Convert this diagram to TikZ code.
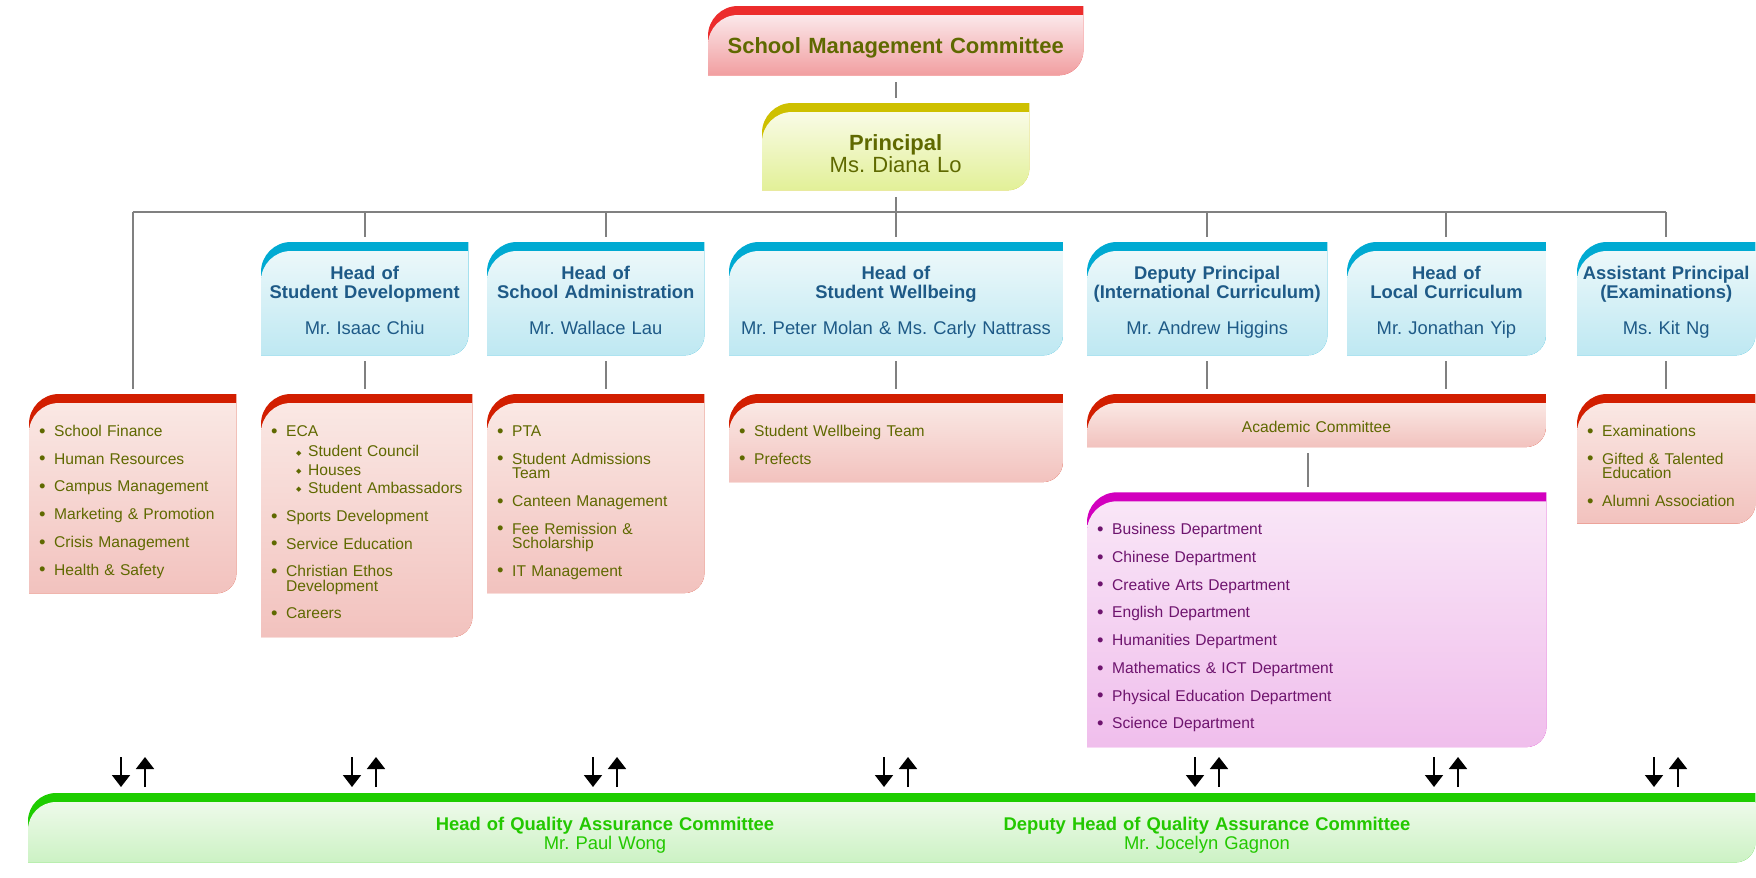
\documentclass[tikz,border=0pt]{standalone}
\usepackage{fontspec}
\setmainfont{Liberation Sans}
\newfontfamily\dejavu{DejaVu Sans}
\usetikzlibrary{arrows.meta,backgrounds}
\frenchspacing

\definecolor{olivetext}{RGB}{95,105,0}
\definecolor{bluetext}{RGB}{30,90,135}
\definecolor{purpletext}{RGB}{110,20,110}
\definecolor{greentext}{RGB}{35,200,0}
\definecolor{linegray}{RGB}{128,128,128}
\definecolor{smcbar}{RGB}{236,44,44}
\definecolor{smctop}{RGB}{251,232,234}
\definecolor{smcbot}{RGB}{241,158,160}
\definecolor{prbar}{RGB}{206,192,0}
\definecolor{prtop}{RGB}{249,251,230}
\definecolor{prbot}{RGB}{226,240,152}
\definecolor{headbar}{RGB}{0,170,210}
\definecolor{headtop}{RGB}{236,248,250}
\definecolor{headbot}{RGB}{190,232,242}
\definecolor{listbar}{RGB}{210,30,0}
\definecolor{listtop}{RGB}{250,232,228}
\definecolor{listbot}{RGB}{242,194,190}
\definecolor{deptbar}{RGB}{210,0,190}
\definecolor{depttop}{RGB}{249,230,247}
\definecolor{deptbot}{RGB}{240,190,236}
\definecolor{qabar}{RGB}{30,205,0}
\definecolor{qatop}{RGB}{238,250,234}
\definecolor{qabot}{RGB}{204,242,196}

\newcommand\listfont{\fontsize{15.6}{14.4}\selectfont\lineskiplimit=-100pt}
\newcommand\headfont{\fontsize{18.4}{19}\selectfont\lineskiplimit=-100pt}
\newcommand\diam{\raisebox{1.5pt}{\dejavu\fontsize{7}{7}\selectfont ◆}}
\newcommand\bul[1]{\mbox{\makebox[15pt][l]{\raisebox{-0.7pt}{\fontsize{18.5}{14}\selectfont\textbullet}}#1}}
\newcommand\subitm[1]{\mbox{\hspace{25pt}\makebox[12pt][l]{\diam}#1}}
\newcommand\contline[1]{\mbox{\hspace{15pt}#1}}
% box with coloured top band: node, band, top colour, bottom colour, radii
\newcommand\orgpanel[6]{%
  \fill[#2] (#1.south west) -- ([yshift=-#5]#1.north west)
    arc[start angle=180,end angle=90,radius=#5] -- (#1.north east)
    -- ([yshift=#6]#1.south east) arc[start angle=0,end angle=-90,radius=#6] -- cycle;
  \shade[top color=#3,bottom color=#4] (#1.south west) -- ([yshift=-#5-9pt]#1.north west)
    arc[start angle=180,end angle=90,radius=#5] -- ([yshift=-9pt]#1.north east)
    -- ([yshift=#6]#1.south east) arc[start angle=0,end angle=-90,radius=#6] -- cycle;}

\begin{document}
\begin{tikzpicture}[x=1pt, y=1pt,
  conn/.style={draw=linegray, line width=2pt},
  flow/.style={line width=1.8pt, -{Triangle[width=18pt,length=12pt]}},
  topbox/.style={anchor=north west, inner sep=0pt, align=center,
    text=olivetext},
  headbox/.style={anchor=north west, inner sep=0pt, align=center,
    font=\headfont, text=bluetext, text height=37.5pt, text depth=75.5pt},
  listbox/.style={anchor=north west, inner xsep=10pt, inner ysep=0pt,
    align=left, font=\listfont, text=olivetext, text height=42.3pt}]
  \useasboundingbox (0,0) rectangle (1756,-878);

  \node[topbox, text width=375pt, font=\bfseries\fontsize{22}{22}\selectfont,
    text height=47pt, text depth=22pt] (smc) at (708,-6) {School Management Committee};
  \node[topbox, text width=267pt, font=\fontsize{22}{22}\selectfont,
    text height=47pt, text depth=40pt] (pr) at (762,-103) {\textbf{Principal}\\Ms. Diana Lo};

  \node[headbox, text width=207pt] (sdev) at (261,-242)
    {\textbf{Head of}\\\textbf{Student Development}\\[17pt]Mr. Isaac Chiu};
  \node[headbox, text width=217pt] (adm) at (487,-242)
    {\textbf{Head of}\\\textbf{School Administration}\\[17pt]Mr. Wallace Lau};
  \node[headbox, text width=333.5pt] (wb) at (729,-242)
    {\textbf{Head of}\\\textbf{Student Wellbeing}\\[17pt]Mr. Peter Molan \& Ms. Carly Nattrass};
  \node[headbox, text width=240pt] (dep) at (1087,-242)
    {\textbf{Deputy Principal}\\\textbf{(International Curriculum)}\\[17pt]Mr. Andrew Higgins};
  \node[headbox, text width=198.5pt] (loc) at (1347,-242)
    {\textbf{Head of}\\\textbf{Local Curriculum}\\[17pt]Mr. Jonathan Yip};
  \node[headbox, text width=178pt] (asst) at (1577,-242)
    {\textbf{Assistant Principal}\\\textbf{(Examinations)}\\[17pt]Ms. Kit Ng};

  \node[listbox, text width=187pt, text depth=156.7pt] (fin) at (29,-394)
    {\bul{School Finance}\\[13.3pt]\bul{Human Resources}\\[13.3pt]\bul{Campus Management}\\[13.3pt]%
     \bul{Marketing \& Promotion}\\[13.3pt]\bul{Crisis Management}\\[13.3pt]\bul{Health \& Safety}};
  \node[listbox, text width=191pt, text depth=200.4pt] (sdevl) at (261,-394)
    {\bul{ECA}\\[5.9pt]\subitm{Student Council}\\[3.9pt]\subitm{Houses}\\[3.9pt]%
     \subitm{Student Ambassadors}\\[13.6pt]\bul{Sports Development}\\[13.3pt]%
     \bul{Service Education}\\[13.3pt]\bul{Christian Ethos}\\\contline{Development}\\[13.3pt]\bul{Careers}};
  \node[listbox, text width=197pt, text depth=156.4pt] (adml) at (487,-394)
    {\bul{PTA}\\[13.3pt]\bul{Student Admissions}\\\contline{Team}\\[13.3pt]\bul{Canteen Management}\\[13.3pt]%
     \bul{Fee Remission \&}\\\contline{Scholarship}\\[13.3pt]\bul{IT Management}};
  \node[listbox, text width=313.5pt, text depth=45.4pt] (wbl) at (729,-394)
    {\bul{Student Wellbeing Team}\\[13.3pt]\bul{Prefects}};
  \node[listbox, inner xsep=0pt, align=center, text width=458.5pt,
    text height=38.3pt, text depth=14.4pt] (acad) at (1087,-394) {Academic Committee};
  \node[listbox, text width=158pt, text depth=87pt] (asstl) at (1577,-394)
    {\bul{Examinations}\\[13.3pt]\bul{Gifted \& Talented}\\\contline{Education}\\[13.3pt]\bul{Alumni Association}};
  \node[listbox, text=purpletext, text width=439pt, text depth=212.1pt] (dept) at (1087,-492.3)
    {\bul{Business Department}\\[13.3pt]\bul{Chinese Department}\\[13.3pt]\bul{Creative Arts Department}\\[13.3pt]%
     \bul{English Department}\\[13.3pt]\bul{Humanities Department}\\[13.3pt]\bul{Mathematics \& ICT Department}\\[13.3pt]%
     \bul{Physical Education Department}\\[13.3pt]\bul{Science Department}};

  \node[anchor=north west, inner sep=0pt, minimum width=1727pt, minimum height=69pt] (qa) at (28,-793) {};
  \node[anchor=base, text width=440pt, align=center, inner sep=0pt, font=\headfont, text=greentext]
    (qahead) at (605,-830.6) {\textbf{Head of Quality Assurance Committee}\\Mr. Paul Wong};
  \node[anchor=base, text width=460pt, align=center, inner sep=0pt, font=\headfont, text=greentext]
    (qadep) at (1207,-830.6) {\textbf{Deputy Head of Quality Assurance Committee}\\Mr. Jocelyn Gagnon};

  \coordinate (bus) at (896,-212);
  \draw[conn] ([yshift=-7pt]smc.south) -- ([yshift=5pt]pr.north);
  \draw[conn] ([yshift=-7pt]pr.south) -- (pr.south |- bus);
  \draw[conn] (fin.north |- bus) -- (asst.north |- bus);
  \foreach \n in {fin,sdev,wb,dep,loc,asst}
    \draw[conn] (\n.north |- bus) -- ([yshift=5pt]\n.north);
  \draw[conn] ([xshift=10pt]adm.north |- bus) -- ([xshift=10pt,yshift=5pt]adm.north);
  \foreach \a/\b in {sdev/sdevl,wb/wbl,asst/asstl,dep/acad,loc/acad}
    \draw[conn] ([yshift=-6pt]\a.south) -- ([yshift=5pt]\a.south |- \b.north);
  \draw[conn] ([xshift=10pt,yshift=-6pt]adm.south) -- ([xshift=10pt,yshift=5pt]adm.south |- adml.north);
  \draw[conn] ([xshift=-8pt,yshift=-6pt]acad.south) -- ([xshift=-8pt,yshift=5pt]acad.south |- dept.north);

  \foreach \cx in {133,364,605,896,1207,1446,1666} {
    \draw[flow] ({\cx-12},0 |- qa.north) ++(0,36) -- ++(0,-30);
    \draw[flow] ({\cx+12},0 |- qa.north) ++(0,6) -- ++(0,30);
  }

  \begin{scope}[on background layer]
    \fill[white] (0,0) rectangle (1756,-878);
    \orgpanel{smc}{smcbar}{smctop}{smcbot}{30pt}{25pt}
    \orgpanel{pr}{prbar}{prtop}{prbot}{30pt}{22pt}
    \foreach \n in {sdev,adm,wb,dep,loc,asst}
      {\orgpanel{\n}{headbar}{headtop}{headbot}{30pt}{20pt}}
    \foreach \n in {fin,sdevl,adml,wbl,acad,asstl}
      {\orgpanel{\n}{listbar}{listtop}{listbot}{30pt}{20pt}}
    \orgpanel{dept}{deptbar}{depttop}{deptbot}{30pt}{20pt}
    \orgpanel{qa}{qabar}{qatop}{qabot}{28pt}{20pt}
  \end{scope}
\end{tikzpicture}
\end{document}
